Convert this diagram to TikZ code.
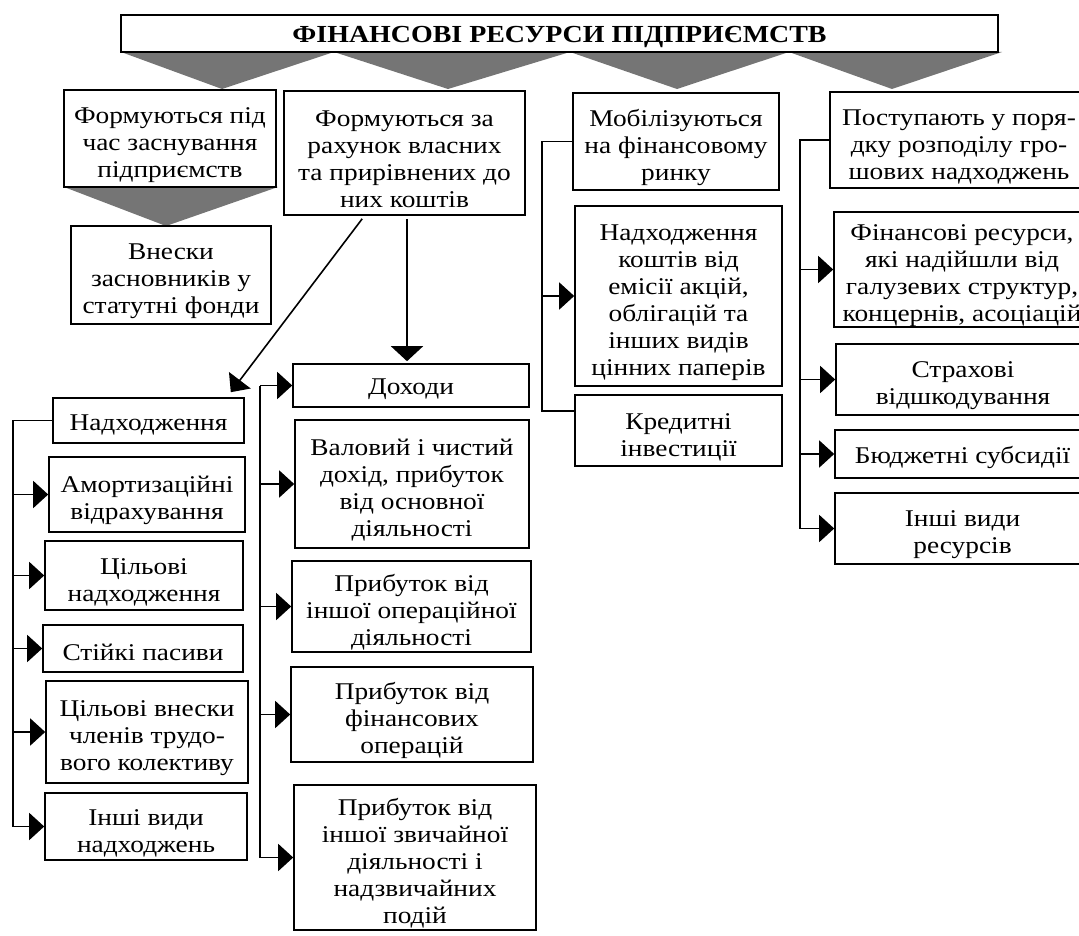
\documentclass[tikz,border=0pt]{standalone}
\usepackage{fontspec}
\setmainfont{Liberation Serif}[FakeStretch=1.14]
\usetikzlibrary{arrows.meta,calc}
\newcommand{\dnstrut}{\rule{0pt}{24pt}}
\newcommand{\tl}{\rule{0pt}{29pt}}
\begin{document}
\begin{tikzpicture}[x=1pt,y=-1pt,
  bx/.style={draw,line width=1.6pt,fill=white,align=center,inner sep=0pt,
    font=\fontsize{24}{27}\selectfont,execute at begin node={\dnstrut}},
  arr/.style={line width=1.6pt,-{Triangle[length=15pt,width=27pt]}},
  ln/.style={line width=1.6pt},
  zig/.style={fill=black!54}]
\useasboundingbox (0,0) rectangle (1079,936);
\clip (0,0) rectangle (1079,936);
% gray zigzag under banner
\fill[zig] (121,52) -- (222,89) -- (334,52) -- (448,89) -- (570,52) -- (677,89) -- (789,52) -- (892,89) -- (1002,52) -- cycle;
\fill[zig] (64,187) -- (278,187) -- (166,226) -- cycle;
% banner
\node[bx,execute at begin node={},minimum width=877,minimum height=37] (top) at (559.5,33.5)
  {\fontsize{24.5}{27}\selectfont\bfseries ФІНАНСОВІ РЕСУРСИ ПІДПРИЄМСТВ};
% top row
\node[bx,minimum width=212,minimum height=97] (a1) at (170,138.5) {\tl Формуються під\\час заснування\\підприємств};
\node[bx,minimum width=200,minimum height=98] (a2) at (171,275) {\tl Внески\\засновників у\\статутні фонди};
\node[bx,minimum width=241,minimum height=124] (b) at (404.5,153) {\tl Формуються за\\рахунок власних\\та прирівнених до\\них коштів};
\node[bx,minimum width=206,minimum height=97] (c) at (676,141.5) {\tl Мобілізуються\\на фінансовому\\ринку};
\node[bx,minimum width=207,minimum height=180] (c2) at (678.5,296) {\tl Надходження\\коштів від\\емісії акцій,\\облігацій та\\інших видів\\цінних паперів};
\node[bx,minimum width=207,minimum height=71] (c3) at (678.5,430.5) {\tl Кредитні\\інвестиції};
\node[bx,minimum width=258,minimum height=96] (d) at (959,140) {\tl Поступають у поря-\\дку розподілу гро-\\шових надходжень};
\node[bx,minimum width=256,minimum height=111] (d2) at (962,269.5) {\tl Фінансові ресурси,\\які надійшли від\\галузевих структур,\\концернів, асоціацій};
\node[bx,minimum width=254,minimum height=71] (d3) at (963,379.5) {\tl Страхові\\відшкодування};
\node[bx,minimum width=255,minimum height=48] (d4) at (962.5,454) {Бюджетні субсидії};
\node[bx,minimum width=255,minimum height=71] (d5) at (962.5,528.5) {\tl Інші види\\ресурсів};
% left column
\node[bx,minimum width=191,minimum height=45] (e1) at (148.5,420.5) {Надходження};
\node[bx,minimum width=196,minimum height=75] (e2) at (147,494.5) {\tl Амортизаційні\\відрахування};
\node[bx,minimum width=198,minimum height=69] (e3) at (144,575.5) {\tl Цільові\\надходження};
\node[bx,minimum width=200,minimum height=47] (e4) at (143,648.5) {Стійкі пасиви};
\node[bx,minimum width=202,minimum height=102] (e5) at (147,732) {\tl Цільові внески\\членів трудо-\\вого колективу};
\node[bx,minimum width=202,minimum height=67] (e6) at (146,826.5) {\tl Інші види\\надходжень};
% middle column
\node[bx,minimum width=236,minimum height=43] (f1) at (411,385.5) {Доходи};
\node[bx,minimum width=234,minimum height=128] (f2) at (412,484) {\tl Валовий і чистий\\дохід, прибуток\\від основної\\діяльності};
\node[bx,minimum width=239,minimum height=91] (f3) at (411.5,606.5) {\tl Прибуток від\\іншої операційної\\діяльності};
\node[bx,minimum width=242,minimum height=95] (f4) at (412,714.5) {\tl Прибуток від\\фінансових\\операцій};
\node[bx,minimum width=242,minimum height=145] (f5) at (415,857.5) {\tl Прибуток від\\іншої звичайної\\діяльності і\\надзвичайних\\подій};
% bracket x positions
\coordinate (eb) at (13,0);
\coordinate (fb) at (260,0);
\coordinate (cb) at (542,0);
\coordinate (db) at (800,0);
% E bracket
\draw[ln] (e1.west) -- (e1.west -| eb) -- (e6.west -| eb);
\foreach \n in {e2,e3,e4,e5,e6} \draw[arr] (\n.west -| eb) -- (\n.west);
% F bracket
\draw[ln] (f1.west -| fb) -- (f5.west -| fb);
\foreach \n in {f1,f2,f3,f4,f5} \draw[arr] (\n.west -| fb) -- (\n.west);
% C bracket
\coordinate (c3in) at ($(c3.north west)+(0,17)$);
\draw[ln] (c.west) -- (c.west -| cb) -- (c3in -| cb) -- (c3in);
\draw[arr] (c2.west -| cb) -- (c2.west);
% D bracket
\draw[ln] (d.west) -- (d.west -| db) -- (d5.west -| db);
\foreach \n in {d2,d3,d4,d5} \draw[arr] (\n.west -| db) -- (\n.west);
% arrows from B
\draw[line width=1.6pt,-{Triangle[length=15pt,width=32pt]}] ($(b.south)+(2.5,3)$) -- ($(b.south |- f1.north)+(2.5,-2)$);
\draw[arr] ($(b.south west)+(79,3)$) -- ($(e1.north east)+(-14,-5)$);
\end{tikzpicture}
\end{document}
